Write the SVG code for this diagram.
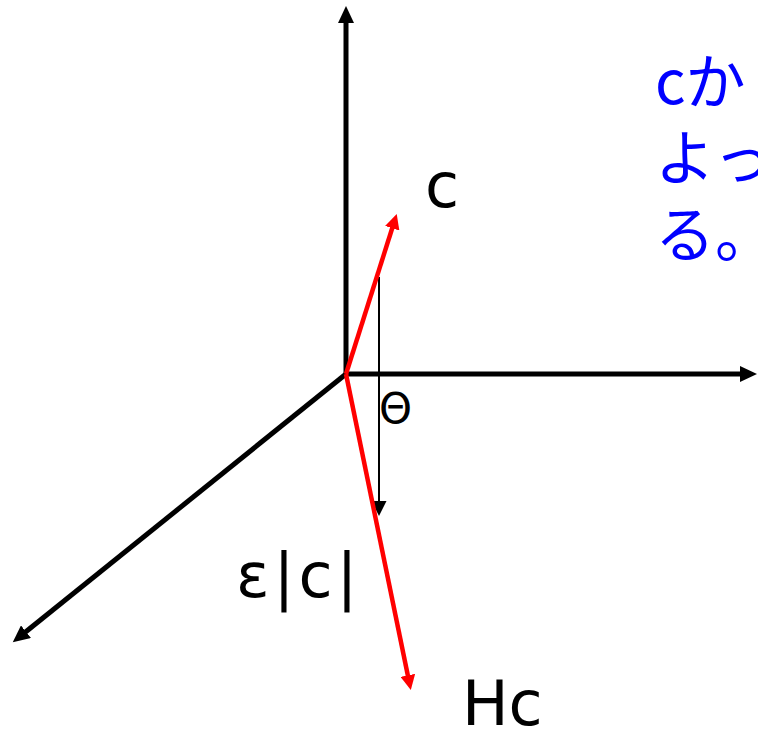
<svg xmlns="http://www.w3.org/2000/svg" width="758" height="730" viewBox="0 0 758 730">
<style>
.ax{stroke:#000;stroke-width:5;fill:none}
.red{stroke:#f00;stroke-width:4.5;fill:none}
.thin{stroke:#000;stroke-width:2;fill:none}
.lbl{font-family:"DejaVu Sans","Liberation Sans",sans-serif;fill:#000}
.jp{font-family:"Noto Sans CJK JP","Noto Sans",sans-serif;fill:#0000ff;font-size:60px}
</style>
<defs>
<marker id="ab" markerUnits="userSpaceOnUse" markerWidth="18" markerHeight="16" refX="1" refY="8" orient="auto"><path d="M0,0 L17,8 L0,16 z" fill="#000"/></marker>
<marker id="ar" markerUnits="userSpaceOnUse" markerWidth="16" markerHeight="15" refX="1" refY="7.5" orient="auto"><path d="M0,0 L15,7.5 L0,15 z" fill="#f00"/></marker>
<marker id="at" markerUnits="userSpaceOnUse" markerWidth="16" markerHeight="15" refX="1" refY="7.5" orient="auto"><path d="M0,0 L15,7.5 L0,15 z" fill="#000"/></marker>
</defs>
<g id="connectors">
<line class="ax" x1="346" y1="374" x2="346" y2="22" marker-end="url(#ab)"/>
<line class="ax" x1="346" y1="374" x2="741" y2="374" marker-end="url(#ab)"/>
<line class="ax" x1="346" y1="374" x2="25.2" y2="632.3" marker-end="url(#ab)"/>
<line class="thin" x1="379" y1="277" x2="379" y2="502" marker-end="url(#at)"/>
<line class="red" x1="346" y1="374" x2="392.5" y2="227.3" marker-end="url(#ar)"/>
<line class="red" x1="346" y1="374" x2="408" y2="676.3" marker-end="url(#ar)"/>
</g>
<g id="label-c"><text class="lbl" x="425" y="207" font-size="62">c</text></g>
<g id="label-theta"><text class="lbl" x="379" y="423" font-size="42">Θ</text></g>
<g id="label-eps"><text class="lbl" x="236" y="597" font-size="62" letter-spacing="4">ε|c|</text></g>
<g id="label-Hc"><text class="lbl" x="462" y="725" font-size="62">Hc</text></g>
<g id="note">
<text class="jp" x="655" y="104">cか</text>
<text class="jp" x="655" y="180">よっ</text>
<text class="jp" x="655" y="257">る。</text>
</g>
</svg>
